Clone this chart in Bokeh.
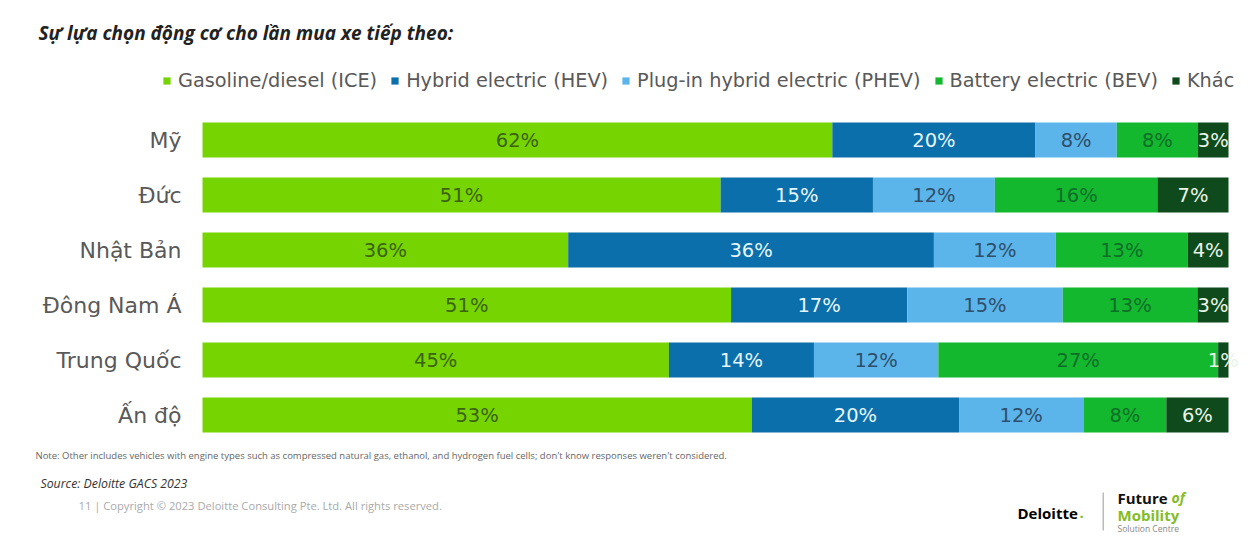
from bokeh.plotting import figure
from bokeh.models import (ColumnDataSource, Range1d, Legend, LegendItem,
                          Label, BoxAnnotation)
from bokeh.core.properties import value
from bokeh.embed import file_html
from bokeh.resources import INLINE

# ---- data ----
countries = ["Mỹ", "Đức", "Nhật Bản", "Đông Nam Á", "Trung Quốc", "Ấn độ"]
ice = [62, 51, 36, 51, 45, 53]
hev = [20, 15, 36, 17, 14, 20]
phev = [8, 12, 12, 15, 12, 12]
bev = [8, 16, 13, 13, 27, 8]
other = [3, 7, 4, 3, 1, 6]

series_names = ["Gasoline/diesel (ICE)", "Hybrid electric (HEV)",
                "Plug-in hybrid electric (PHEV)", "Battery electric (BEV)", "Khác"]
series_vals = [ice, hev, phev, bev, other]
keys = ["ice", "hev", "phev", "bev", "other"]
colors = ["#76D400", "#0A6FAA", "#5BB5EA", "#13B82F", "#0F4A1D"]
label_colors = ["#3B6310", "#E6F6FF", "#2F4F6B", "#0E6E28", "#E9F5E9"]

# normalized (each row is drawn to 100%)
totals = [sum(v[i] for v in series_vals) for i in range(len(countries))]
rows = list(range(len(countries)))
data = {"country": countries, "row": rows}
for k, v in zip(keys, series_vals):
    data[k] = [x / t for x, t in zip(v, totals)]
src = ColumnDataSource(data)

W, H = 1242, 535
# frame spans whole canvas; bars map x 0..1 -> px 202..1228, rows every 55px from 139.5
X0, XW = 202.0, 1026.0
Y0, YP = 139.5, 55.0

p = figure(width=W, height=H, output_backend="svg", toolbar_location=None,
           x_axis_type=None, y_axis_type=None,
           x_range=Range1d(-X0 / XW, (W - X0) / XW),
           y_range=Range1d((H - Y0) / YP, -Y0 / YP),
           min_border=0, min_border_left=0, min_border_right=0,
           min_border_top=0, min_border_bottom=0)
p.outline_line_color = None
p.grid.visible = False
p.background_fill_color = "white"
p.border_fill_color = "white"

renderers = p.hbar_stack(keys, y="row", height=0.64, color=colors, source=src,
                         line_color=None)

# category labels (left of the bars)
p.text(x=0, y="row", text="country", source=src, text_align="right", text_baseline="middle",
       x_offset=-21, text_font=value("DejaVu Sans"), text_font_size="22px",
       text_color="#595959")

# segment labels
lx, ly, lt, lc = [], [], [], []
for i in rows:
    cum = 0.0
    for j, k in enumerate(keys):
        w = data[k][i]
        lx.append(cum + w / 2)
        ly.append(i)
        lt.append(f"{series_vals[j][i]}%")
        lc.append(label_colors[j])
        cum += w
lsrc = ColumnDataSource(dict(x=lx, y=ly, t=lt, c=lc))
p.text(x="x", y="y", text="t", source=lsrc, text_color="c", text_align="center",
       text_baseline="middle", text_font=value("DejaVu Sans"), text_font_size="19.5px")

legend = Legend(items=[LegendItem(label=n, renderers=[r]) for n, r in zip(series_names, renderers)],
                orientation="horizontal", location=(162, 443), glyph_width=9, glyph_height=9,
                label_text_font="DejaVu Sans", label_text_font_size="19.3px",
                label_text_color="#595959", label_standoff=7, spacing=13,
                padding=0, margin=0, border_line_color=None, background_fill_alpha=0)
p.add_layout(legend)


def lab(text, px, py, size, color="#333333", font="Open Sans", style="normal"):
    p.add_layout(Label(text=text, x=px, y=H - py, x_units="screen", y_units="screen",
                       text_font=font, text_font_size=size, text_color=color,
                       text_font_style=style, text_baseline="middle"))


lab("Sự lựa chọn động cơ cho lần mua xe tiếp theo:", 38, 32, "19px", "#222222",
    style="bold italic")
lab("Note: Other includes vehicles with engine types such as compressed  natural gas, ethanol, "
    "and hydrogen fuel cells; don't know responses weren't considered.", 35, 455, "9.5px", "#666666")
lab("Source: Deloitte  GACS 2023", 40, 483, "12.3px", "#333333", style="italic")
lab("11  |  Copyright © 2023 Deloitte Consulting Pte. Ltd. All rights reserved.", 78, 505,
    "11.2px", "#AAAAAA")
lab("Deloitte", 1017, 512, "15px", "#000000", style="bold")
lab(".", 1079, 512, "15px", "#86BC25", style="bold")
p.add_layout(BoxAnnotation(left=1102, right=1103.5, top=H - 492, bottom=H - 530,
                           left_units="screen", right_units="screen",
                           top_units="screen", bottom_units="screen",
                           fill_color="#BBBBBB", fill_alpha=1, line_color=None))
lab("Future", 1117, 497, "15px", "#111111", style="bold")
lab("of", 1171, 497, "14px", "#86BC25", style="bold italic")
lab("Mobility", 1117, 514, "15px", "#86BC25", style="bold")
lab("Solution Centre", 1117, 528, "8.5px", "#888888")

open("out.html", "w").write(file_html(p, INLINE))
